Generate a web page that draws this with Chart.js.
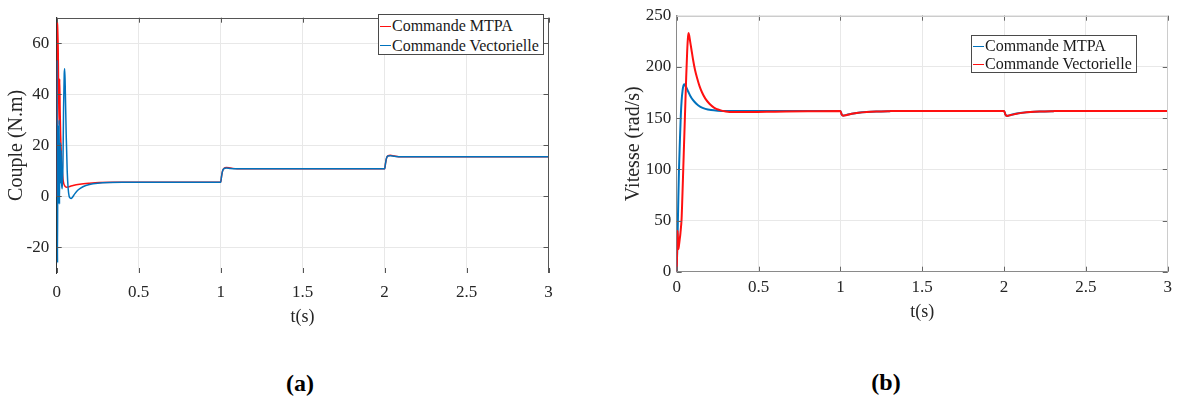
<!DOCTYPE html>
<html>
<head>
<meta charset="utf-8">
<script src="https://cdn.jsdelivr.net/npm/chart.js@4.4.1/dist/chart.umd.min.js"></script>
<style>
  body { margin: 0; background: #fff; }
  #page { position: relative; width: 1178px; height: 400px; overflow: hidden; font-family: "Liberation Serif", "Times New Roman", serif; }
  canvas { position: absolute; top: 0; }
  .legend { position: absolute; box-sizing: border-box; background: #fff; border: 1px solid #4a4a4a; font-size: 16px; color: #1a1a1a; padding-top: 1px; white-space: nowrap; }
  .legend .row { position: relative; padding-left: 13px; }
  .legend .row i { position: absolute; left: 1px; top: 50%; width: 11px; height: 0; border-top: 1.5px solid; }
  .cap { position: absolute; font-weight: bold; font-size: 24px; color: #000; transform: translate(-50%, -50%); }
</style>
</head>
<body>
<div id="page">
  <canvas id="chartA" width="565" height="330" style="left:0"></canvas>
  <canvas id="chartB" width="588" height="330" style="left:590px"></canvas>
  <div class="legend" id="legA" style="left:378px; top:14px; width:166px; height:41px; line-height:19.6px;"></div>
  <div class="legend" id="legB" style="left:971px; top:35px; width:166px; height:38px; line-height:18.3px;"></div>
  <div class="cap" style="left:300px; top:383px;">(a)</div>
  <div class="cap" style="left:886px; top:382px;">(b)</div>
</div>
<script>
// series names, as printed in the legends
const seriesNames = ["Commande MTPA", "Commande Vectorielle"];

// shared time axis ticks (s)
const timeTicks = [0, 0.5, 1, 1.5, 2, 2.5, 3];

// (a) couple, N.m
const coupleTicks = [-20, 0, 20, 40, 60];
const tCoupleMtpa = [0, 0.002, 0.004, 0.006, 0.009, 0.012, 0.015, 0.018, 0.021, 0.024, 0.028, 0.033, 0.04, 0.05, 0.06, 0.075, 0.1, 0.14, 0.2, 0.26, 0.35,
  1.0, 1.006, 1.012, 1.02, 1.035, 1.06, 1.1, 2.0, 2.006, 2.012, 2.02, 2.035, 2.06, 2.1, 3.0];
const coupleMtpa = [0, 45, 68.5, 66, 58, 40, 28, 46, 33, 24, 17, 11, 6, 4, 3.6, 3.8, 4.3, 4.8, 5.2, 5.45, 5.5,
  5.5, 8, 10, 10.9, 11.3, 11.1, 10.8, 10.8, 13, 15, 15.9, 16.1, 15.8, 15.5, 15.5];
const tCoupleVect = [0, 0.0015, 0.003, 0.005, 0.007, 0.009, 0.011, 0.013, 0.015, 0.017, 0.019, 0.021, 0.023, 0.025, 0.027, 0.03, 0.034, 0.038, 0.042, 0.046,
  0.049, 0.053, 0.058, 0.064, 0.07, 0.076, 0.082, 0.088, 0.095, 0.11, 0.13, 0.16, 0.2, 0.25, 0.32, 0.4,
  1.0, 1.006, 1.012, 1.02, 1.035, 1.06, 1.1, 2.0, 2.006, 2.012, 2.02, 2.035, 2.06, 2.1, 3.0];
const coupleVect = [0, 53, 10, -26, 28, -3, 20, 2, 30, -3, 20, 5, 21, 8, 18, 5, 3, 12, 35, 48,
  50, 40, 24, 10, 3, 0, -0.6, -0.8, -0.4, 1, 2.5, 3.8, 4.7, 5.2, 5.45, 5.5,
  5.5, 8, 10, 10.9, 11.1, 10.9, 10.8, 10.8, 13, 15, 15.8, 15.9, 15.7, 15.5, 15.5];

// (b) vitesse, rad/s
const vitesseTicks = [0, 50, 100, 150, 200, 250];
const tVitMtpa = [0, 0.003, 0.006, 0.01, 0.014, 0.02, 0.025, 0.03, 0.036, 0.041, 0.046, 0.052, 0.06, 0.07, 0.085, 0.1, 0.12, 0.145, 0.175, 0.21, 0.25, 0.3, 0.4,
  1.0, 1.008, 1.018, 1.04, 1.07, 1.11, 1.16, 1.22, 1.3, 1.4, 2.0, 2.008, 2.018, 2.04, 2.07, 2.11, 2.16, 2.22, 2.3, 2.4, 3.0];
const vitMtpa = [0, 20, 40, 72, 100, 130, 152, 167, 177, 181.5, 183, 182, 179.5, 176, 171, 167.5, 164, 161, 159, 157.8, 157.2, 157, 157,
  157, 153.5, 152.5, 153.2, 154.3, 155.3, 156, 156.5, 156.8, 157, 157, 153.5, 152.2, 153, 154.2, 155.2, 156, 156.5, 156.8, 157, 157];
const tVitVect = [0, 0.002, 0.005, 0.008, 0.011, 0.014, 0.018, 0.023, 0.03, 0.035, 0.04, 0.046, 0.052, 0.058, 0.064, 0.068, 0.072, 0.076, 0.082, 0.09,
  0.1, 0.112, 0.125, 0.14, 0.155, 0.175, 0.2, 0.23, 0.26, 0.3, 0.35, 0.45, 0.6, 0.8,
  1.0, 1.008, 1.018, 1.04, 1.07, 1.11, 1.16, 1.22, 1.3, 1.4, 2.0, 2.008, 2.018, 2.04, 2.07, 2.11, 2.16, 2.22, 2.3, 2.4, 3.0];
const vitVect = [0, 15, 40, 30, 22, 26, 31, 38, 52, 75, 100, 130, 160, 190, 215, 227, 233, 231, 225, 217,
  207, 197, 189, 181, 175, 169, 164, 160, 158, 156.5, 156, 156, 156.3, 156.7,
  157, 153.5, 152.4, 153.1, 154.2, 155.2, 156, 156.5, 156.8, 157, 157, 153.5, 152.1, 153, 154.1, 155.1, 156, 156.5, 156.8, 157, 157];

const RED = "#ff1010";
const BLUE = "#0072bd";
const textColor = "#262626";
const serif = "'Liberation Serif', 'Times New Roman', serif";

const pts = (ts, ys) => ts.map((t, i) => ({ x: t, y: ys[i] }));

// MATLAB-like frame: inward ticks plus the top / right box lines
const framePlugin = {
  id: "frame",
  afterDatasetsDraw(chart, args, opts) {
    const { ctx, chartArea: a, scales: { x, y } } = chart;
    ctx.save();
    ctx.lineWidth = 1;
    ctx.strokeStyle = opts.tickColor;
    ctx.beginPath();
    timeTicks.forEach(v => {
      const px = Math.round(x.getPixelForValue(v)) + 0.5;
      ctx.moveTo(px, a.bottom); ctx.lineTo(px, a.bottom - 5);
      ctx.moveTo(px, a.top); ctx.lineTo(px, a.top + 5);
    });
    y.ticks.forEach(t => {
      const py = Math.round(y.getPixelForValue(t.value)) + 0.5;
      ctx.moveTo(a.left, py); ctx.lineTo(a.left + 5, py);
      ctx.moveTo(a.right, py); ctx.lineTo(a.right - 5, py);
    });
    ctx.stroke();
    ctx.strokeStyle = opts.boxColor;
    ctx.beginPath();
    ctx.moveTo(a.left, Math.round(a.top) + 0.5); ctx.lineTo(a.right, Math.round(a.top) + 0.5);
    ctx.moveTo(Math.round(a.right) - 0.5, a.top); ctx.lineTo(Math.round(a.right) - 0.5, a.bottom);
    ctx.stroke();
    if (opts.bottomColor) {
      ctx.strokeStyle = opts.bottomColor;
      ctx.beginPath();
      ctx.moveTo(a.left, Math.round(a.bottom) - 0.5); ctx.lineTo(a.right, Math.round(a.bottom) - 0.5);
      ctx.stroke();
    }
    ctx.restore();
  }
};

function makeChart(id, cfg) {
  return new Chart(document.getElementById(id), {
    type: "line",
    data: {
      datasets: [
        { label: seriesNames[0], data: cfg.series[0], borderColor: cfg.colors[0], order: 1 },
        { label: seriesNames[1], data: cfg.series[1], borderColor: cfg.colors[1], order: 0 }
      ]
    },
    options: {
      responsive: false,
      animation: false,
      layout: { padding: cfg.padding },
      elements: {
        point: { radius: 0 },
        line: { borderWidth: cfg.lineWidth, cubicInterpolationMode: "monotone" }
      },
      scales: {
        x: {
          type: "linear", min: 0, max: 3,
          afterBuildTicks: s => { s.ticks = timeTicks.map(v => ({ value: v })); },
          afterFit: s => { s.height = cfg.xHeight; },
          grid: { color: "#e8e8e8", drawTicks: false },
          border: { display: false },
          ticks: { padding: cfg.xTickPad, color: textColor, font: { family: serif, size: 17 }, maxRotation: 0, callback: v => String(v) },
          title: { display: true, text: "t(s)", color: textColor, font: { family: serif, size: 18 }, padding: { top: 0, bottom: cfg.xTitlePad } }
        },
        y: {
          min: cfg.yMin, max: cfg.yMax,
          afterBuildTicks: s => { s.ticks = cfg.yTicks.map(v => ({ value: v })); },
          afterFit: s => { s.width = cfg.yWidth; },
          grid: { color: "#e8e8e8", drawTicks: false },
          border: { display: true, color: cfg.axisColor, width: 1 },
          ticks: { padding: cfg.yTickPad, color: textColor, font: { family: serif, size: 17 }, callback: v => String(v) },
          title: { display: true, text: cfg.yTitle, color: textColor, font: { family: serif, size: 20 }, padding: { top: cfg.yTitlePad, bottom: 0 } }
        }
      },
      plugins: {
        legend: { display: false },
        tooltip: { enabled: false },
        frame: cfg.frame
      }
    },
    plugins: [framePlugin]
  });
}

function fillLegend(id, colors) {
  const box = document.getElementById(id);
  seriesNames.forEach((name, i) => {
    const row = document.createElement("div");
    row.className = "row";
    row.innerHTML = '<i style="border-color:' + colors[i] + '"></i>' + name;
    box.appendChild(row);
  });
}

makeChart("chartA", {
  series: [pts(tCoupleMtpa, coupleMtpa), pts(tCoupleVect, coupleVect)],
  colors: [RED, BLUE],
  lineWidth: 1.5,
  padding: { top: 9, right: 16.5, left: 0, bottom: 0 },
  xHeight: 57, yWidth: 56.7,
  xTickPad: 9, yTickPad: 7.5, xTitlePad: 2, yTitlePad: 5,
  yMin: -30, yMax: 70, yTicks: coupleTicks,
  yTitle: "Couple (N.m)",
  axisColor: "#333333",
  frame: { tickColor: "#555555", boxColor: "#555555" }
});

makeChart("chartB", {
  series: [pts(tVitMtpa, vitMtpa), pts(tVitVect, vitVect)],
  colors: [BLUE, RED],
  lineWidth: 2,
  padding: { top: 10, right: 9, left: 0, bottom: 0 },
  xHeight: 58.3, yWidth: 86.7,
  xTickPad: 6, yTickPad: 5.5, xTitlePad: 7, yTitlePad: 32,
  yMin: 0, yMax: 250, yTicks: vitesseTicks,
  yTitle: "Vitesse (rad/s)",
  axisColor: "#8a8a8a",
  frame: { tickColor: "#666666", boxColor: "#cccccc", bottomColor: "#8a8a8a" }
});

fillLegend("legA", [RED, BLUE]);
fillLegend("legB", [BLUE, RED]);
</script>
</body>
</html>
